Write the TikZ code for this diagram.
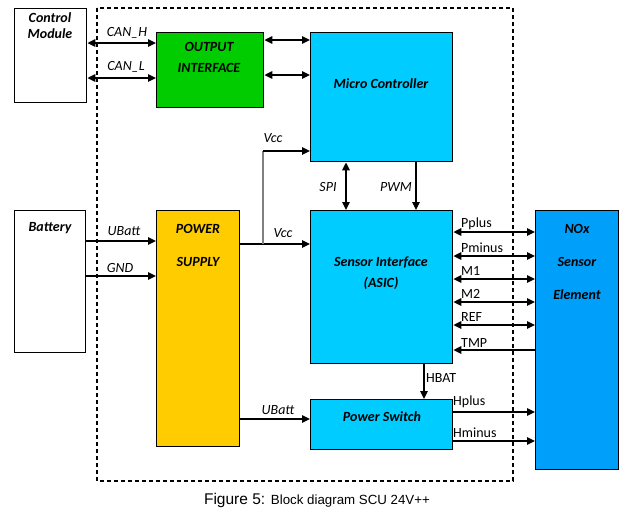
\documentclass[tikz,border=0pt]{standalone}
\usepackage{fontspec}
\setmainfont{Carlito}
\newfontfamily\capfont{Liberation Sans}
\usetikzlibrary{arrows.meta}
\definecolor{outgreen}{RGB}{0, 204, 0}
\definecolor{chipblue}{RGB}{0, 204, 255}
\definecolor{noxblue}{RGB}{0, 160, 250}
\definecolor{psuyellow}{RGB}{255, 204, 0}

\begin{document}
\begin{tikzpicture}[
    x=1pt, y=-1pt,
    blk/.style={draw, line width=1.4pt, anchor=north west, inner sep=0pt},
    title/.style={font=\bfseries\itshape\fontsize{14}{15}\selectfont, inner sep=0pt},
    sig/.style={font=\itshape\fontsize{14}{15}\selectfont, inner sep=0pt},
    pin/.style={font=\fontsize{14}{15}\selectfont, inner sep=0pt, anchor=west},
    wire/.style={line width=1.6pt},
    arr/.style={wire, -{Triangle[length=8pt, width=7.5pt]}},
    biarr/.style={wire, {Triangle[length=8pt, width=7.5pt]}-{Triangle[length=8pt, width=7.5pt]}}
]
    \useasboundingbox (0,0) rectangle (641,512);

    % SCU boundary
    \draw[dash pattern=on 4pt off 3pt, line width=1.4pt] (97,8) rectangle (513,481);

    % Blocks
    \node[blk, minimum width=72, minimum height=94] (ctrl) at (14,8) {};
    \node[blk, fill=outgreen, minimum width=107, minimum height=75] (out) at (156,32) {};
    \node[blk, fill=chipblue, minimum width=142, minimum height=129] (mcu) at (310,32) {};
    \node[blk, minimum width=71, minimum height=142] (batt) at (14,210) {};
    \node[blk, fill=psuyellow, minimum width=83, minimum height=236] (psu) at (156,210) {};
    \node[blk, fill=chipblue, minimum width=142, minimum height=153] (asic) at (310,210) {};
    \node[blk, fill=chipblue, minimum width=142, minimum height=50] (psw) at (310,399) {};
    \node[blk, fill=noxblue, minimum width=83, minimum height=259] (nox) at (535,210) {};

    % Block titles
    \node[title, align=center] (ctrl-t) at (50,26) {Control\\[1pt]Module};
    \node[title, align=center] (out-t) at (209,57) {OUTPUT\\[6pt]INTERFACE};
    \node[title] (mcu-t) at (381,84) {Micro Controller};
    \node[title] (batt-t) at (50,228) {Battery};
    \node[title, align=center] (psu-t) at (198,245) {POWER\\[18pt]SUPPLY};
    \node[title, align=center] (asic-t) at (381,273) {Sensor Interface\\[6pt](ASIC)};
    \node[title] (psw-t) at (382,417) {Power Switch};
    \node[title, align=center] (nox-t) at (577,262) {NOx\\[18pt]Sensor\\[18pt]Element};

    % CAN bus
    \draw[biarr] (ctrl.east |- 0,43) -- (out.west |- 0,43);
    \node[sig] (canh) at (127,33) {CAN\_H};
    \draw[biarr] (ctrl.east |- 0,78) -- (out.west |- 0,78);
    \node[sig] (canl) at (126,67) {CAN\_L};

    % Output interface to micro
    \draw[biarr] (out.east |- 0,40) -- (mcu.west |- 0,40);
    \draw[biarr] (out.east |- 0,75) -- (mcu.west |- 0,75);

    % Supply side
    \draw[arr] (batt.east |- 0,241) -- (psu.west |- 0,241);
    \node[sig] (ubatt-in) at (124,231) {UBatt};
    \draw[arr] (batt.east |- 0,276) -- (psu.west |- 0,276);
    \node[sig] (gnd) at (120,268) {GND};

    \coordinate (vcc-tap) at (263,244);
    \draw[arr] (psu.east |- vcc-tap) -- (asic.west |- vcc-tap);
    \node[sig] (vcc-lo) at (283,233) {Vcc};
    \draw[gray, line width=1.2pt] (vcc-tap) -- (263,151);
    \draw[arr] (263,151) -- (mcu.west |- 0,151);
    \node[sig] (vcc-hi) at (273,138) {Vcc};

    \draw[arr] (psu.east |- 0,419) -- (psw.west |- 0,419);
    \node[sig] (ubatt-out) at (278,410) {UBatt};

    % Micro to ASIC
    \draw[biarr] (mcu.south -| 346,0) -- (asic.north -| 346,0);
    \node[sig] (spi) at (328,187) {SPI};
    \draw[arr] (mcu.south -| 416,0) -- (asic.north -| 416,0);
    \node[sig] (pwm) at (396,187) {PWM};

    % ASIC to sensor element
    \foreach \yy/\nm in {232/Pplus, 256/Pminus, 279/M1, 302/M2, 325/REF}{
        \draw[biarr] (asic.east |- 0,\yy) -- (nox.west |- 0,\yy);
        \node[pin] (pin-\nm) at (461,\yy-8) {\nm};
    }
    \draw[arr] (nox.west |- 0,350) -- (asic.east |- 0,350);
    \node[pin] (pin-TMP) at (461,343) {TMP};

    % Heater
    \draw[arr] (asic.south -| 424,0) -- (psw.north -| 424,0);
    \node[pin] (hbat) at (426,378) {HBAT};
    \draw[arr] (psw.east |- 0,412) -- (nox.west |- 0,412);
    \node[pin] (hplus) at (453,402) {Hplus};
    \draw[arr] (psw.east |- 0,441) -- (nox.west |- 0,441);
    \node[pin] (hminus) at (453,433) {Hminus};

    % Caption
    \node[inner sep=0pt] (caption) at (317,500) {\capfont\fontsize{15.5}{17}\selectfont Figure 5: \fontsize{13.3}{15}\selectfont Block diagram SCU 24V++};
\end{tikzpicture}
\end{document}
